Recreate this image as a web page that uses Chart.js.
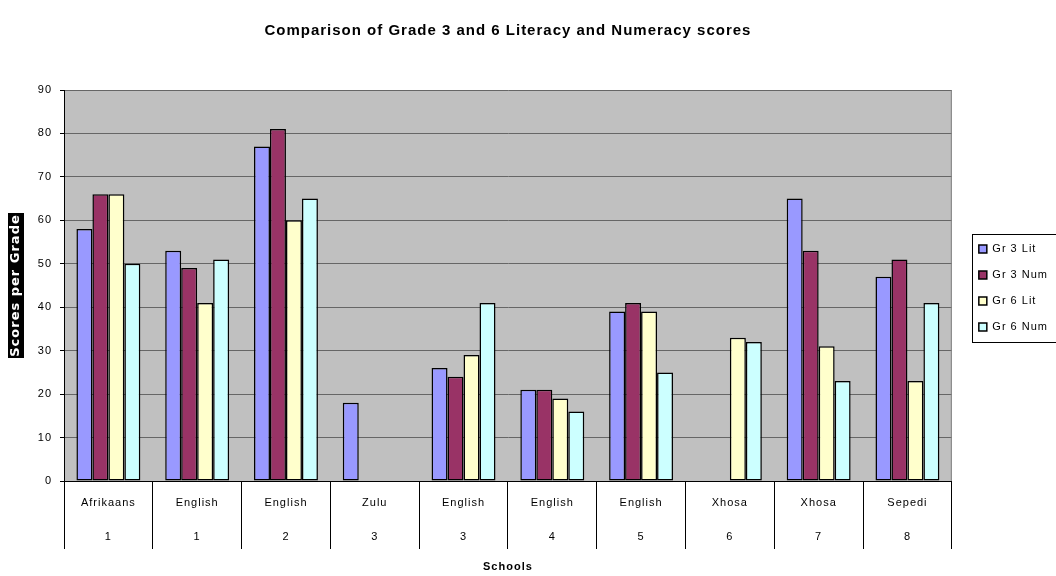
<!DOCTYPE html>
<html>
<head>
<meta charset="utf-8">
<script src="https://cdn.jsdelivr.net/npm/chart.js@4/dist/chart.umd.min.js"></script>
<style>
  html, body { margin: 0; padding: 0; background: #ffffff; }
  canvas { display: block; }
</style>
</head>
<body>
<canvas id="chart" width="1056" height="576"></canvas>
<script>
// Home language of each school and the school number
const languages = ['Afrikaans', 'English', 'English', 'Zulu', 'English', 'English', 'English', 'Xhosa', 'Xhosa', 'Sepedi'];
const schoolNumbers = ['1', '1', '2', '3', '3', '4', '5', '6', '7', '8'];

// Scores per grade (null = not tested)
const gr3Lit = [58, 53, 77, 18, 26, 21, 39, null, 65, 47];
const gr3Num = [66, 49, 81, null, 24, 21, 41, null, 53, 51];
const gr6Lit = [66, 41, 60, null, 29, 19, 39, 33, 31, 23];
const gr6Num = [50, 51, 65, null, 41, 16, 25, 32, 23, 41];

const seriesNames = ['Gr 3 Lit', 'Gr 3 Num', 'Gr 6 Lit', 'Gr 6 Num'];
const yMin = 0, yMax = 90, yStep = 10;

const ARIAL = "'Liberation Sans', Arial, sans-serif";
const Y_TITLE_FONT = { family: "'DejaVu Sans', sans-serif", size: 13, weight: 'bold' };

// Silver plot background, black box behind the y-axis title, plot edge and legend frame
const decorations = {
  id: 'decorations',
  beforeDraw(chart) {
    const { ctx, chartArea: a } = chart;
    ctx.letterSpacing = '1px';
    ctx.save();
    ctx.fillStyle = '#c0c0c0';
    ctx.fillRect(a.left, a.top, a.right - a.left, a.bottom - a.top);

    const y = chart.scales.y;
    const t = chart.options.scales.y.title;
    ctx.font = `${Y_TITLE_FONT.weight} ${Y_TITLE_FONT.size}px ${Y_TITLE_FONT.family}`;
    const w = ctx.measureText(t.text).width;
    const cx = y.left + t.padding.top + Y_TITLE_FONT.size * 1.2 / 2;
    const cy = (a.top + a.bottom) / 2;
    ctx.fillStyle = '#000000';
    ctx.fillRect(Math.round(cx - 8), Math.round(cy - w / 2 - 1), 16, Math.round(w + 2));
    ctx.restore();
  },
  beforeDatasetsDraw(chart) {
    const { ctx, chartArea: a } = chart;
    ctx.save();
    ctx.strokeStyle = '#808080';
    ctx.lineWidth = 1;
    ctx.beginPath();
    ctx.moveTo(a.right - 0.5, a.top);
    ctx.lineTo(a.right - 0.5, a.bottom);
    ctx.stroke();
    ctx.restore();
  },
  afterDraw(chart) {
    const boxes = chart.legend && chart.legend.legendHitBoxes;
    if (!boxes || !boxes.length) return;
    const { ctx } = chart;
    const first = boxes[0], last = boxes[boxes.length - 1];
    const left = Math.min(...boxes.map(b => b.left)) - 7;
    const top = first.top + first.height / 2 - 15;
    const bottom = last.top + last.height / 2 + 15;
    ctx.save();
    ctx.strokeStyle = '#000000';
    ctx.lineWidth = 1;
    ctx.strokeRect(Math.round(left) + 0.5, Math.round(top) + 0.5, chart.width, Math.round(bottom - top));
    ctx.restore();
  }
};

const colours = ['#9999ff', '#993366', '#ffffcc', '#ccffff'];
const values = [gr3Lit, gr3Num, gr6Lit, gr6Num];

new Chart(document.getElementById('chart'), {
  type: 'bar',
  data: {
    labels: languages.map((lang, i) => [lang, schoolNumbers[i]]),
    datasets: seriesNames.map((name, i) => ({
      label: name,
      data: values[i],
      backgroundColor: colours[i],
      borderColor: '#000000',
      borderWidth: 1.5,
      borderSkipped: false,
      categoryPercentage: 0.72,
      barPercentage: 1.0
    }))
  },
  options: {
    responsive: false,
    animation: false,
    layout: { padding: { right: 6 } },
    plugins: {
      title: {
        display: true,
        text: 'Comparison of Grade 3 and 6 Literacy and Numeracy scores',
        color: '#000000',
        font: { family: ARIAL, size: 15, weight: 'bold' },
        padding: { top: 22, bottom: 50 },
        fullSize: false
      },
      legend: {
        position: 'right',
        labels: {
          color: '#000000',
          font: { family: ARIAL, size: 11 },
          boxWidth: 8,
          boxHeight: 8,
          padding: 15
        }
      },
      tooltip: { enabled: false }
    },
    scales: {
      x: {
        offset: true,
        grid: {
          offset: true,
          drawOnChartArea: false,
          color: '#000000',
          tickColor: '#000000',
          tickLength: 68
        },
        border: { color: '#000000', width: 1 },
        ticks: {
          color: '#000000',
          font: { family: ARIAL, size: 11, lineHeight: '34px' },
          padding: -63,
          maxRotation: 0,
          autoSkip: false
        },
        title: {
          display: true,
          text: 'Schools',
          color: '#000000',
          font: { family: ARIAL, size: 11, weight: 'bold' },
          padding: { top: 7, bottom: 2 }
        },
        afterFit(scale) { scale.height = 95; }
      },
      y: {
        min: yMin,
        max: yMax,
        ticks: {
          stepSize: yStep,
          color: '#000000',
          font: { family: ARIAL, size: 11 },
          padding: 8
        },
        grid: {
          color: ctx => (ctx.tick && ctx.tick.value === 0 ? '#000000' : '#666666'),
          tickColor: '#000000',
          tickLength: 4
        },
        border: { color: '#000000', width: 1 },
        title: {
          display: true,
          text: 'Scores per Grade',
          color: '#ffffff',
          font: Y_TITLE_FONT,
          padding: { top: 8, bottom: 10 }
        },
        afterFit(scale) { scale.width = 64; }
      },
      // empty spacer axis between the plot and the legend
      spacer: {
        type: 'linear',
        position: 'right',
        display: true,
        grid: { display: false, drawTicks: false },
        border: { display: false },
        ticks: { display: false },
        afterFit(scale) { scale.width = 12; }
      }
    }
  },
  plugins: [decorations]
});
</script>
</body>
</html>
